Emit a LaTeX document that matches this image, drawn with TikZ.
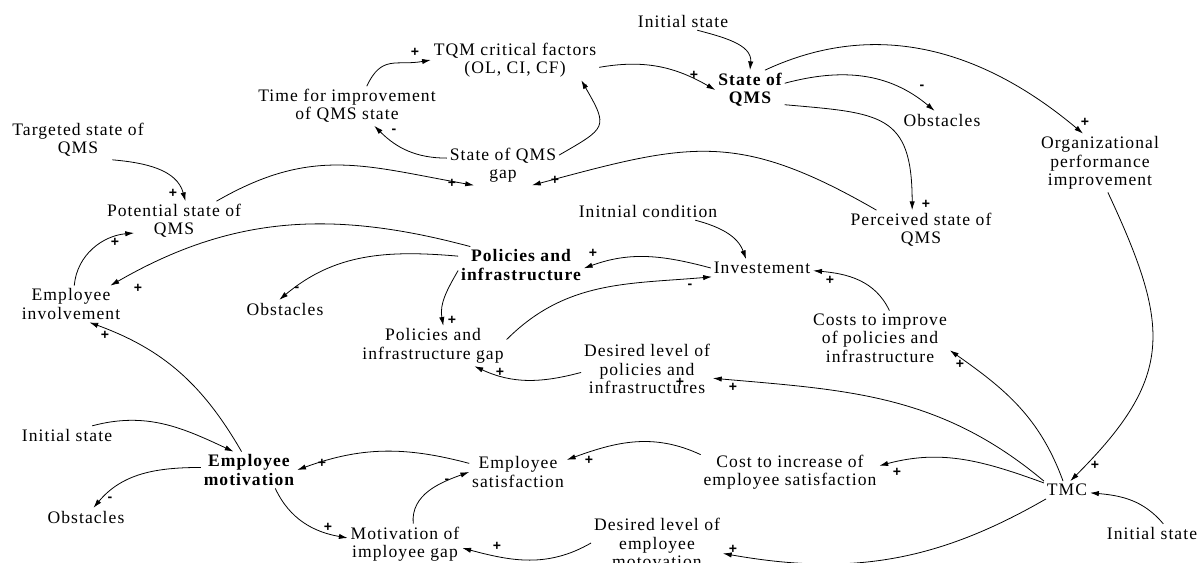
\documentclass[tikz,border=0pt]{standalone}
\usepackage{fontspec}
\setmainfont{Liberation Serif}[LetterSpace=6]
\newfontfamily\signfont{Liberation Sans}
\usetikzlibrary{arrows.meta}
\begin{document}
\begin{tikzpicture}[x=0.02cm, y=-0.02cm]
	\tikzstyle{Var} = [align=center, inner sep=1.5pt, font=\fontsize{10}{10.5}\selectfont]
	\tikzstyle{BoldVar} = [Var, font=\fontsize{10}{10.5}\selectfont\bfseries]
	\tikzstyle{Sign} = [inner sep=0pt, font=\signfont\bfseries\fontsize{8}{8}\selectfont]
	\tikzstyle{Link} = [-{Latex[length=5pt,width=3pt]}, line width=0.45pt]
	\useasboundingbox (0,0) rectangle (1198,563);
	\node (1) at (78,140) [Var] {Targeted state of\\QMS};
	\node (2) at (347,106) [Var] {Time for improvement\\of QMS state};
	\node (3) at (515,60) [Var] {TQM critical factors\\(OL, CI, CF)};
	\node (4) at (683,21) [Var] {Initial state};
	\node (5) at (750,90) [BoldVar] {State of\\QMS};
	\node (6) at (503,165) [Var] {State of QMS\\gap};
	\node (7) at (942,120) [Var] {Obstacles};
	\node (8) at (1100,163) [Var] {Organizational\\performance\\improvement};
	\node (9) at (174,221) [Var] {Potential state of\\QMS};
	\node (10) at (71,304) [Var] {Employee\\involvement};
	\node (11) at (285,309) [Var] {Obstacles};
	\node (12) at (521,265) [BoldVar] {Policies and\\infrastructure};
	\node (13) at (648,211) [Var] {Initnial condition};
	\node (14) at (762,268) [Var] {Investement};
	\node (15) at (921,230) [Var] {Perceived state of\\QMS};
	\node (16) at (880,338) [Var] {Costs to improve\\of policies and\\infrastructure};
	\node (17) at (433,346) [Var] {Policies and\\infrastructure gap};
	\node (18) at (647,369) [Var] {Desired level of\\policies and\\infrastructures};
	\node (19) at (67,435) [Var] {Initial state};
	\node (20) at (249,470) [BoldVar] {Employee\\motivation};
	\node (21) at (86,517) [Var] {Obstacles};
	\node (22) at (405,544) [Var] {Motivation of\\imployee gap};
	\node (23) at (518,472) [Var] {Employee\\satisfaction};
	\node (24) at (790,472) [Var] {Cost to increase of\\employee satisfaction};
	\node (25) at (657,543) [Var] {Desired level of\\employee\\motovation};
	\node (26) at (1152,533) [Var] {Initial state};
	\node (27) at (1067,490) [Var] {TMC};
	\draw [Link] (1.-30) to [out=-5, in=105] (9.60);
	\draw [Link] (9.25) to [out=30, in=170, looseness=1.1] (6.215);
	\draw [Link] (15.156) to [out=150, in=15, looseness=1.2] (6.-35);
	\draw [Link] (6.173) to [out=180, in=-45] (2.-36);
	\draw [Link] (2.45) to [out=65, in=190, looseness=1.3] (3.west);
	\draw [Link] (6.10) to [out=30, in=-60, looseness=1.8] (3.-17);
	\draw [Link] (3.-5) to [out=10, in=150] (5.west);
	\draw [Link] (4.-33) to [out=-15, in=85] (5.north);
	\draw [Link] (5.53) to [out=25, in=140] (8.120);
	\draw [Link] (5.11) to [out=15, in=140] (7.129);
	\draw [Link] (5.-23) to [out=-5, in=90, looseness=1.5] (15.114);
	\draw [Link] (8.-75) to [out=-65, in=45, looseness=1.3] (27.70);
	\draw [Link] (13.-11) to [out=-15, in=110] (14.151);
	\draw [Link] (14.west) to [out=165, in=20] (12.-3);
	\draw [Link] (17.5) to [out=45, in=185] (14.190);
	\draw [Link] (16.71) to [out=115, in=-5] (14.-3);
	\draw [Link] (12.185) to [out=240, in=100] (17.63);
	\draw [Link] (12.172) to [out=175, in=40] (11.122);
	\draw [Link] (12.160) to [out=165, in=30] (10.25);
	\draw [Link] (10.80) to [out=85, in=185] ([shift={(30,12)}]9.west);
	\draw [Link] (20.112) to [out=120, in=-20] (10.-45);
	\draw [Link] (19.20) to [out=15, in=155] (20.130);
	\draw [Link] (20.177) to [out=180, in=50] (21.51);
	\draw [Link] (20.-35) to [out=-65, in=170] (22.174);
	\draw [Link] (23.170) to [out=165, in=20] (20.east);
	\draw [Link] (22.68) to [out=95, in=200] (23.west);
	\draw [Link] (24.169) to [out=155, in=20] (23.14);
	\draw [Link] (25.west) to [out=210, in=-15] (22.-4);
	\draw [Link] (27.203) to [out=210, in=-10] (25.-9);
	\draw [Link] (27.163) to [out=160, in=15] (24.4);
	\draw [Link] (27.north west) to [out=140, in=-5] (18.-8);
	\draw [Link] (27.114) to [out=110, in=-35] (16.-10);
	\draw [Link] (26.39) to [out=130, in=-5] (27.-7);
	\draw [Link] (18.183) to [out=195, in=-25] (17.-26);
	\node (s1) at (173,193) [Sign] {+};
	\node (s2) at (452,183) [Sign] {+};
	\node (s3) at (555,180) [Sign] {+};
	\node (s4) at (394,131) [Sign] {-};
	\node (s5) at (415,52) [Sign] {+};
	\node (s6) at (585,87) [Sign] {-};
	\node (s7) at (694,75) [Sign] {+};
	\node (s8) at (1085,122) [Sign] {+};
	\node (s9) at (922,87) [Sign] {-};
	\node (s10) at (926,204) [Sign] {+};
	\node (s11) at (1095,465) [Sign] {+};
	\node (s12) at (593,253) [Sign] {+};
	\node (s13) at (690,286) [Sign] {-};
	\node (s14) at (830,280) [Sign] {+};
	\node (s15) at (452,320) [Sign] {+};
	\node (s16) at (297,289) [Sign] {-};
	\node (s17) at (138,288) [Sign] {+};
	\node (s18) at (115,242) [Sign] {+};
	\node (s19) at (105,335) [Sign] {+};
	\node (s20) at (110,499) [Sign] {-};
	\node (s21) at (328,527) [Sign] {+};
	\node (s22) at (322,463) [Sign] {+};
	\node (s23) at (447,481) [Sign] {-};
	\node (s24) at (589,460) [Sign] {+};
	\node (s25) at (497,546) [Sign] {+};
	\node (s26) at (733,549) [Sign] {+};
	\node (s27) at (897,472) [Sign] {+};
	\node (s28) at (733,387) [Sign] {+};
	\node (s29) at (680,382) [Sign] {+};
	\node (s30) at (960,364) [Sign] {+};
	\node (s31) at (500,372) [Sign] {+};
\end{tikzpicture}
\end{document}
